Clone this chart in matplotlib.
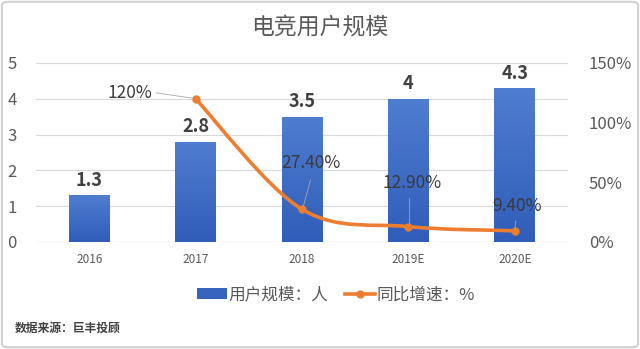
import matplotlib
matplotlib.use('Agg')
import matplotlib.pyplot as plt
import numpy as np
from matplotlib.path import Path
from matplotlib.patches import PathPatch, Patch, FancyBboxPatch
from matplotlib.lines import Line2D

plt.rcParams['font.family'] = ['Noto Sans CJK SC', 'DejaVu Sans']

# data
years = ['2016', '2017', '2018', '2019E', '2020E']
users = [1.3, 2.8, 3.5, 4, 4.3]
growth_years = ['2017', '2018', '2019E', '2020E']
growth = [120, 27.4, 12.9, 9.4]
growth_labels = ['120%', '27.40%', '12.90%', '9.40%']
left_ticks = [0, 1, 2, 3, 4, 5]
right_ticks = [0, 50, 100, 150]

grey = '#595959'
dark = '#404040'
orange = '#ED7D31'

fig = plt.figure(figsize=(6.4, 3.49), dpi=100)
ax = fig.add_axes([0.05625, 0.3066, 0.83125, 0.5129])
ax2 = ax.twinx()

x = np.arange(len(years))
bw = 0.385

# gridlines
for t in left_ticks:
    ax.axhline(t, color='#D9D9D9', lw=0.8, zorder=0)

# bars with a vertical blue gradient
grad = np.linspace(1, 0, 256).reshape(-1, 1)
cmap = matplotlib.colors.LinearSegmentedColormap.from_list('b', ['#305DB9', '#4F7DD0'])
for xi, v in zip(x, users):
    bar = ax.bar(xi, v, width=bw, color='none', zorder=2)[0]
    im = ax.imshow(grad, extent=[xi - bw / 2, xi + bw / 2, 0, v], aspect='auto',
                   cmap=cmap, vmin=0, vmax=1, origin='upper', zorder=2)
    im.set_clip_path(bar)
    ax.text(xi, v + 0.42, f'{v:g}', ha='center', va='center', fontsize=13,
            fontweight='bold', color=dark, zorder=5)
ax.set_xlim(-0.5, len(years) - 0.5)
ax.set_ylim(0, 5)
ax2.set_ylim(0, 150)

# smoothed growth line (Catmull-Rom through the points as bezier segments)
gx = np.array([years.index(y) for y in growth_years], dtype=float)
gy = np.array(growth, dtype=float)
pts = np.column_stack([gx, gy])
verts = [pts[0]]
codes = [Path.MOVETO]
n = len(pts)
for i in range(n - 1):
    p0 = pts[i - 1] if i > 0 else pts[i]
    p1 = pts[i]
    p2 = pts[i + 1]
    p3 = pts[i + 2] if i + 2 < n else pts[i + 1]
    c1 = p1 + (p2 - p0) / 6
    c2 = p2 - (p3 - p1) / 6
    verts += [c1, c2, p2]
    codes += [Path.CURVE4] * 3
ax2.add_patch(PathPatch(Path(verts, codes), fill=False, edgecolor=orange, lw=2.6,
                        capstyle='round', zorder=3))
ax2.plot(gx, gy, 'o', color=orange, ms=5, zorder=4)

# growth labels with leader lines
lab_pos = [(0.38, 125), (2.08, 66), (3.03, 49.4), (4.02, 30.2)]
lead = [((0.63, 125), (0.97, 120.5)), ((2.08, 52), (2.01, 29)),
        ((3.01, 37), (3.01, 14.5)), ((4.01, 17.6), (4.0, 11))]
for (lx, ly), s, (a, b) in zip(lab_pos, growth_labels, lead):
    ax2.text(lx, ly, s, ha='center', va='center', fontsize=12.5, color='#3A3A3A', zorder=6)
    ax2.plot([a[0], b[0]], [a[1], b[1]], color='#A6A6A6', lw=0.6, zorder=5)

# axes styling
ax.set_xticks(x)
ax.set_xticklabels(years, fontsize=8.5, color=grey)
ax.set_yticks(left_ticks)
ax.set_yticklabels([str(t) for t in left_ticks], fontsize=12, color=grey)
ax2.set_yticks(right_ticks)
ax2.set_yticklabels([f'{t}%' for t in right_ticks], fontsize=12, color=grey, ha='left')
ax.tick_params(axis='x', length=0, pad=8)
ax.tick_params(axis='y', length=0, pad=14)
ax2.tick_params(axis='y', length=0, pad=15)
for a in (ax, ax2):
    for sp in a.spines.values():
        sp.set_visible(False)
ax.axhline(0, color='#BFBFBF', lw=0.8, zorder=1)
ax.set_zorder(ax2.get_zorder() - 1)
ax2.patch.set_visible(False)

fig.text(0.5, 0.922, '电竞用户规模', ha='center', va='center', fontsize=16.5, color=grey)

handles = [Patch(facecolor='#3563BE', edgecolor='none'),
           Line2D([0], [0], color=orange, lw=2.6, marker='o', ms=5)]
fig.legend(handles, ['用户规模：人', '同比增速：%'], loc='center', bbox_to_anchor=(0.525, 0.155),
           ncol=2, frameon=False, fontsize=12, handlelength=1.8, handleheight=0.6,
           handletextpad=0.1, columnspacing=1.0, labelcolor=grey)

fig.text(0.023, 0.06, '数据来源：巨丰投顾', ha='left', va='center', fontsize=8.5,
         fontweight='bold', color=dark)

fig.patches.append(FancyBboxPatch((0.003, 0.005), 0.994, 0.99, boxstyle='round,pad=0,rounding_size=0.01',
                                  transform=fig.transFigure, fill=False, edgecolor='#D0D0D0', lw=1.5))

fig.savefig('out.png', dpi=100)
